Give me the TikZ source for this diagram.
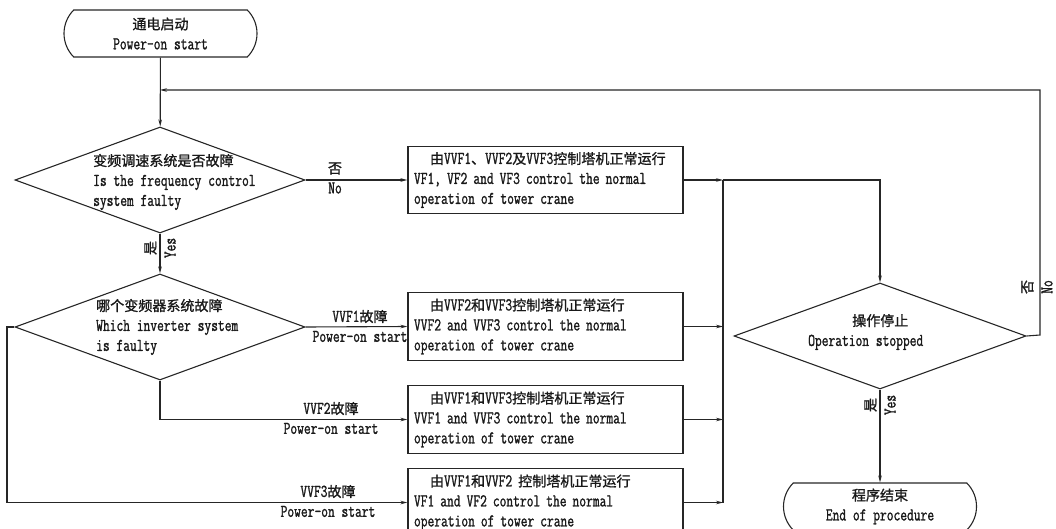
\documentclass[tikz,border=0pt]{standalone}
\usepackage{fontspec}
\setmainfont{Latin Modern Mono}[FakeStretch=0.73, FakeBold=1.2]
\newfontfamily\cjk{Noto Sans CJK SC}[Scale=0.78, FakeBold=1.2]
\newcommand\Z[1]{{\cjk #1}}
\usetikzlibrary{shapes.geometric,shapes.misc,arrows.meta}
\begin{document}
\begin{tikzpicture}[x=1pt,y=-1pt,
  every node/.style={font=\fontsize{18}{20}\selectfont, inner sep=0pt, text=black!90},
  line/.style={draw=black!85, line width=1.1pt},
  arr/.style={line, -{Stealth[length=7pt,width=3.5pt]}},
  term/.style={rounded rectangle, rounded rectangle arc length=90, draw=black!85, line width=1.1pt,
    minimum width=193pt, minimum height=47pt, align=center},
  dec/.style={diamond, draw=black!85, line width=1.1pt, minimum width=290pt, minimum height=106pt, inner sep=0pt},
  proc/.style={rectangle, draw=black!85, line width=1.1pt, minimum width=275pt, minimum height=63pt,
    text width=263pt, align=left, inner sep=6pt},
  lbl/.style={align=center},
  vlbl/.style={align=center, rotate=90},
  dtext/.style={align=left, anchor=west},
]
\useasboundingbox (0,0) rectangle (1056,529);

% terminals
\node[term] (start) at (160.5,33.5) {\Z{通电启动}\\Power-on start};
\node[term] (end) at (880,506.5) {\Z{程序结束}\\End of procedure};

% decisions
\node[dec] (d1) at (160,180) {};
\node[dtext] (d1t) at (93,182) {\Z{变频调速系统是否故障}\\Is the frequency control\\system faulty};
\node[dec] (d2) at (160,327) {};
\node[dtext] (d2t) at (96,327) {\Z{哪个变频器系统故障}\\Which inverter system\\is faulty};
\node[dec, minimum width=292pt] (d3) at (880,336) {};
\node[dtext] (d3t) at (808,332) {\hspace*{44pt}\Z{操作停止}\\Operation stopped};

% process boxes
\node[proc, minimum height=64pt] (b1) at (545.5,180) {\hspace*{16pt}\Z{由}VVF1\Z{、}VVF2\Z{及}VVF3\Z{控制塔机正常运行}\\VF1, VF2 and VF3 control the normal\\operation of tower crane};
\node[proc] (b2) at (545.5,326.5) {\hspace*{16pt}\Z{由}VVF2\Z{和}VVF3\Z{控制塔机正常运行}\\VVF2 and VVF3 control the normal\\operation of tower crane};
\node[proc] (b3) at (545.5,419.5) {\hspace*{16pt}\Z{由}VVF1\Z{和}VVF3\Z{控制塔机正常运行}\\VVF1 and VVF3 control the normal\\operation of tower crane};
\node[proc] (b4) at (545.5,502.5) {\hspace*{16pt}\Z{由}VVF1\Z{和}VVF2 \Z{控制塔机正常运行}\\VF1 and VF2 control the normal\\operation of tower crane};

% helper coordinates
\coordinate (j0) at (160,90);
\coordinate (rt) at (1040,335);
\coordinate (lf) at (7,327);
\coordinate (m1) at (723,180);
\coordinate (m4) at (723,502.5);
\coordinate (mt) at (880,180);

% connectors
\draw[arr] (start) -- (d1);
\draw[arr] (d3.east) -- (rt) |- (j0);
\draw[arr] (d1.east) -- (b1.west);
\draw[arr] (d1.south) -- (d2.north);
\draw[arr] (d2.east) -- (b2.west);
\draw[arr] (d2.south) |- (b3.west);
\draw[arr] (d2.west) -- (lf) |- (b4.west);
\draw[arr] (b1.east) -- (m1);
\draw[arr] (b2.east) -- (b2.east -| m1);
\draw[arr] (b3.east) -- (b3.east -| m1);
\draw[arr] (b4.east) -- (m4);
\draw[line] (m1) -- (m4);
\draw[arr] (m1) -- (mt) -- (d3.north);
\draw[arr] (d3.south) -- (end.north);

% labels
\node[lbl] (l1) at (335,178) {\Z{否}\\No};
\node[vlbl] (l2) at (160,248) {\Z{是}\\Yes};
\node[lbl] (l3) at (360,326) {VVF1\Z{故障}\\Power-on start};
\node[lbl] (l4) at (331,418) {VVF2\Z{故障}\\Power-on start};
\node[lbl] (l5) at (328,501) {VVF3\Z{故障}\\Power-on start};
\node[vlbl] (l6) at (880,405) {\Z{是}\\Yes};
\node[vlbl] (l7) at (1037,287) {\Z{否}\\No};
\end{tikzpicture}
\end{document}
